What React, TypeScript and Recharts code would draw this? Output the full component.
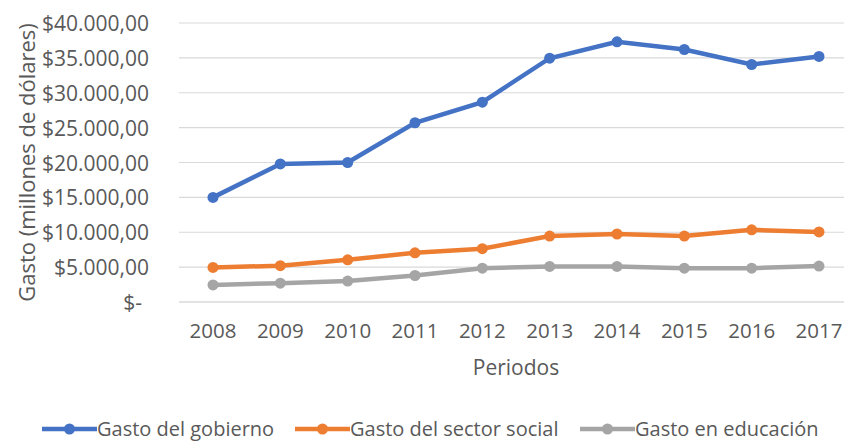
import { LineChart, Line, XAxis, YAxis, CartesianGrid, Legend, Label } from "recharts";

const years = ["2008", "2009", "2010", "2011", "2012", "2013", "2014", "2015", "2016", "2017"];
const gastoGobierno = [15000, 19800, 20000, 25700, 28650, 34950, 37300, 36200, 34050, 35200];
const gastoSocial = [4950, 5200, 6050, 7050, 7650, 9450, 9750, 9450, 10350, 10050];
const gastoEducacion = [2450, 2700, 3000, 3800, 4850, 5100, 5100, 4850, 4850, 5150];
const yTicks = [0, 5000, 10000, 15000, 20000, 25000, 30000, 35000, 40000];

const data = years.map((year, i) => ({
  year,
  gobierno: gastoGobierno[i],
  social: gastoSocial[i],
  educacion: gastoEducacion[i],
}));

const FONT = "'Open Sans', sans-serif";
const TEXT = "#595959";
const GRID = "#d9d9d9";

const series = [
  { key: "gobierno", name: "Gasto del gobierno", color: "#4472c4" },
  { key: "social", name: "Gasto del sector social", color: "#ed7d31" },
  { key: "educacion", name: "Gasto en educación", color: "#a5a5a5" },
];

// left edge of each legend entry
const legendLefts = [42, 295, 580];

function formatMoney(v: number) {
  if (v === 0) return "$-";
  const s = String(Math.round(v)).replace(/\B(?=(\d{3})+(?!\d))/g, ".");
  return `$${s},00`;
}

function YTick({ x, y, payload }: any) {
  const zero = payload.value === 0;
  return (
    <text
      x={zero ? x - 7 : x}
      y={y}
      textAnchor="end"
      dominantBaseline="central"
      fill={TEXT}
      fontSize={21}
      fontFamily={FONT}
    >
      {formatMoney(payload.value)}
    </text>
  );
}

function YLabel({ viewBox }: any) {
  const cx = (viewBox?.x ?? 0) + 26;
  const cy = (viewBox?.y ?? 0) + (viewBox?.height ?? 0) / 2;
  return (
    <text
      x={cx}
      y={cy}
      transform={`rotate(-90, ${cx}, ${cy})`}
      textAnchor="middle"
      dominantBaseline="central"
      fill={TEXT}
      fontSize={22}
      fontFamily={FONT}
    >
      Gasto (millones de dólares)
    </text>
  );
}

function LegendContent({ payload }: any) {
  return (
    <div style={{ position: "relative", height: 25 }}>
      {(payload || []).map((entry: any, i: number) => (
        <div
          key={entry.value}
          style={{
            position: "absolute",
            left: legendLefts[i],
            top: 0,
            display: "flex",
            alignItems: "center",
            whiteSpace: "nowrap",
          }}
        >
          <svg width={55} height={14}>
            <line x1={0} y1={7} x2={55} y2={7} stroke={entry.color} strokeWidth={4.5} />
            <circle cx={27.5} cy={7} r={5.5} fill={entry.color} />
          </svg>
          <span style={{ color: TEXT, fontSize: 20, fontFamily: FONT, lineHeight: "25px" }}>{entry.value}</span>
        </div>
      ))}
    </div>
  );
}

export default function App() {
  return (
    <div
      style={{
        position: "absolute",
        left: 0,
        top: 0,
        width: 844,
        height: 443,
        overflow: "hidden",
        background: "#fff",
      }}
    >
      <LineChart
        width={860}
        height={450}
        data={data}
        margin={{ top: 23, right: 7, left: 0, bottom: 68 }}
      >
        <CartesianGrid stroke={GRID} strokeWidth={1.2} vertical={false} />
        <XAxis
          dataKey="year"
          height={80}
          padding={{ left: 34, right: 34 }}
          tickSize={0}
          tickMargin={21}
          axisLine={{ stroke: GRID, strokeWidth: 1.2 }}
          tickLine={false}
          tick={{ fill: TEXT, fontSize: 20.5, fontFamily: FONT }}
        >
          <Label
            value="Periodos"
            position="insideBottom"
            offset={7}
            fill={TEXT}
            fontSize={21}
            fontFamily={FONT}
          />
        </XAxis>
        <YAxis
          width={179}
          domain={[0, 40000]}
          ticks={yTicks}
          interval={0}
          tickSize={0}
          tickMargin={30}
          axisLine={false}
          tickLine={false}
          tick={<YTick />}
        >
          <Label content={<YLabel />} />
        </YAxis>
        <Legend
          layout="vertical"
          align="center"
          verticalAlign="middle"
          wrapperStyle={{ top: 416, left: 0, width: 844, height: 25 }}
          content={<LegendContent />}
        />
        {series.map((s) => (
          <Line
            key={s.key}
            dataKey={s.key}
            name={s.name}
            stroke={s.color}
            strokeWidth={4.5}
            dot={{ r: 5.5, fill: s.color, stroke: s.color, strokeWidth: 0 }}
            activeDot={false}
            isAnimationActive={false}
          />
        ))}
      </LineChart>
    </div>
  );
}
